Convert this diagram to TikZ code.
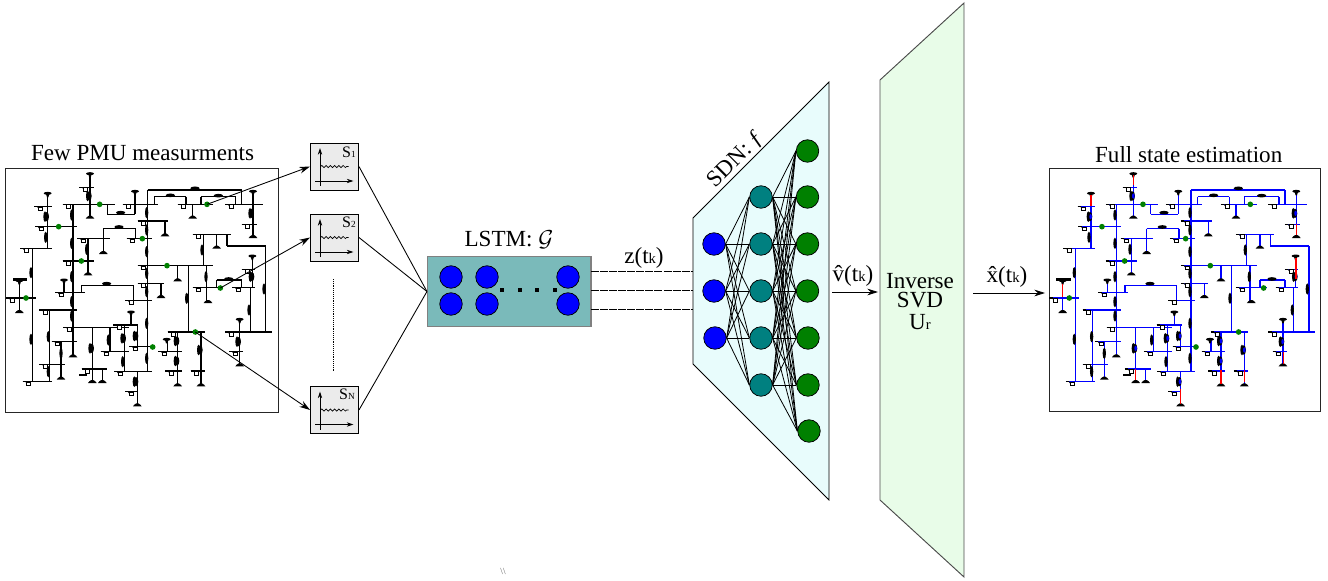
\documentclass[tikz,border=0pt]{standalone}
\usepackage{fontspec}
\setmainfont{Liberation Serif}
\usetikzlibrary{arrows.meta,decorations.pathmorphing}
\definecolor{sdnfill}{HTML}{E8FCFC}
\definecolor{svdfill}{HTML}{E8FCE8}
\definecolor{lstmfill}{HTML}{7ABABA}
\definecolor{boxfill}{HTML}{EBEBEB}
\definecolor{nblue}{HTML}{0000FF}
\definecolor{nteal}{HTML}{008080}
\definecolor{ngreen}{HTML}{008000}
\colorlet{netcol}{black}
\tikzset{
  pt/.style={circle,draw=black,line width=.55pt,minimum size=22.5*.75pt,inner sep=0pt},
  inpt/.style={pt,fill=nblue},
  hidpt/.style={pt,fill=nteal},
  outpt/.style={pt,fill=ngreen},
  edge/.style={line width=.6pt,black},
  conn/.style={line width=.65pt,black},
  arr/.style={conn,-{Stealth[length=8pt,width=5pt]}},
  sbox/.style={draw=black,fill=boxfill,line width=.7pt,minimum width=48*.75pt,minimum height=47*.75pt,inner sep=0pt},
  lab/.style={font=\fontsize{17.3}{18}\selectfont,inner sep=0pt},
  frame/.style={draw=black!85,line width=.7pt,fill=white},
  dashedlink/.style={line width=.55pt,black,dash pattern=on 6pt off .8pt},
  wire/.style={line width=.8pt,netcol},
  coil/.style={fill=black,draw=none},
}
% network primitives (coordinates in 3x zoom pixels)
\newcommand{\busline}[3]{%
  \draw[wire] (#1,#3) -- (#2,#3);
  \draw[line width=1pt,black] (#1,#3) -- (#1+10,#3);
  \draw[line width=.45pt,black] (#1+9,#3) -- (#1+13,#3+5);
  \draw[line width=.55pt,black,fill=white] (#1+12,#3+1.5) rectangle (#1+24,#3+12);
}
\newcommand{\vl}[3]{\draw[wire] (#1,#2) -- (#1,#3);}
\newcommand{\hl}[3]{\draw[wire] (#1,#3) -- (#2,#3);}
\newcommand{\blob}[2]{\fill[coil] (#1,#2) ellipse (5 and 17);}
\newcommand{\hblob}[2]{\fill[coil] (#1,#2) ellipse (14 and 5.5);}
\newcommand{\bigblob}[2]{\fill[coil] (#1-2,#2) ellipse (5 and 16);\fill[coil] (#1+3,#2) ellipse (7 and 14);}
\newcommand{\load}[2]{\fill[coil] (#1-13,#2+4) -- (#1-9,#2-1) -- (#1-3,#2-5) -- (#1+3,#2-5) -- (#1+9,#2-1) -- (#1+13,#2+4) -- cycle;}
\newcommand{\gen}[2]{\fill[coil] (#1,#2) ellipse (12 and 4.5); \fill[coil] (#1-5,#2+2) -- (#1+5,#2+2) -- (#1+2,#2+12) -- (#1-2,#2+12) -- cycle;}
\newcommand{\gdot}[2]{\fill[ngreen] (#1,#2) circle (8.5);}
\newcommand{\netdraw}{%
  % main verticals
  \vl{219}{223}{678}\vl{443}{180}{725}\hl{443}{725}{180}\vl{725}{180}{223}
  \vl{270}{136}{262}\busline{238}{282}{172}
  \busline{188}{345}{223}\busline{105}{232}{290}\busline{188}{282}{393}
  \busline{165}{255}{488}\busline{118}{232}{540}\busline{190}{387}{592}\busline{155}{232}{635}
  \vl{143}{193}{355}\busline{103}{155}{230}\busline{60}{155}{355}
  \vl{97}{355}{755}\busline{68}{155}{755}
  \busline{18}{108}{504}\vl{58}{461}{545}
  \vl{148}{540}{755}\busline{118}{195}{703}\vl{183}{635}{745}
  \vl{192}{455}{488}\vl{264}{326}{432}
  \vl{277}{592}{752}\busline{245}{322}{717}\vl{307}{717}{752}
  \vl{330}{592}{665}\busline{302}{387}{665}
  \vl{373}{585}{725}\busline{340}{415}{585}\vl{393}{552}{585}
  \vl{412}{585}{650}\busline{388}{458}{650}
  \busline{342}{455}{725}\vl{412}{725}{822}\busline{375}{412}{785}
  \busline{368}{475}{223}\vl{405}{190}{253}\hl{322}{405}{253}\vl{322}{223}{253}
  \busline{533}{640}{223}\vl{578}{223}{262}
  \vl{463}{200}{223}\hl{463}{558}{200}\vl{558}{200}{223}
  \vl{603}{200}{223}\hl{603}{707}{200}\vl{707}{200}{223}
  \busline{675}{790}{223}\vl{759}{190}{318}\busline{725}{770}{283}
  \busline{413}{505}{273}\vl{495}{273}{315}
  \busline{380}{455}{326}\vl{407}{296}{326}\hl{310}{407}{296}\vl{310}{296}{326}
  \busline{232}{330}{326}\vl{310}{326}{368}
  \busline{413}{640}{407}\vl{533}{407}{450}\vl{565}{407}{606}\vl{610}{313}{407}
  \busline{578}{693}{313}\vl{650}{313}{352}\vl{681}{313}{348}\hl{681}{797}{348}\vl{797}{348}{606}
  \vl{620}{407}{515}\busline{578}{670}{473}
  \vl{650}{450}{473}\hl{650}{725}{450}\vl{725}{450}{473}
  \busline{697}{765}{473}\vl{751}{473}{606}\vl{757}{382}{473}\busline{725}{765}{418}
  \busline{413}{493}{460}\vl{483}{460}{500}
  \busline{375}{455}{511}\vl{400}{466}{511}\hl{245}{400}{466}\vl{245}{466}{488}
  \busline{503}{615}{606}\vl{533}{606}{765}\busline{475}{545}{665}\vl{503}{630}{665}\busline{495}{545}{723}
  \vl{603}{606}{765}\busline{572}{615}{723}
  \busline{675}{815}{606}\vl{719}{572}{705}\busline{688}{730}{665}
  % coils
  \foreach \a/\b in {215/255,215/340,215/440,215/515,215/558,93/428,93/628,137/322,145/620,145/725,183/670,325/630,368/695,
    440/248,440/300,440/365,440/430,440/485,440/580,440/685,560/505,606/360,618/440,792/477,747/540,260/358}{\blob{\a}{\b}}
  \hblob{362}{248}\hblob{511}{196}\hblob{655}{197}\hblob{585}{175}\hblob{357}{291}\hblob{686}{447}\hblob{320}{461}
  \foreach \a/\b in {265/198,137/260,272/655,368/625,405/618,405/755,528/633,528/693,598/660,713/635,752/250,753/440}{\bigblob{\a}{\b}}
  % loads
  \foreach \a/\b in {270/262,578/262,759/320,495/315,310/368,264/432,533/450,650/352,624/515,483/500,219/678,183/745,277/755,307/755,58/545,412/825,533/765,603/765,719/705}{\load{\a}{\b}}
  % generators
  \foreach \a/\b in {270/131,143/190,405/184,759/184,757/378,393/546,192/450,719/568,500/628}{\gen{\a}{\b}}
  \fill[coil] (38,444) rectangle (82,452); \gen{58}{452}
  \fill[coil] (238,732) rectangle (262,737);
  % green buses
  \foreach \a/\b in {299/223,176/290,244/393,78/504,621/223,427/326,501/407,661/474,586/606,458/651}{\gdot{\a}{\b}}
}
\begin{document}
\begin{tikzpicture}[x=.75pt,y=-.75pt]
\useasboundingbox (0,0) rectangle (1328,581);
% left grid
\node[lab] (ttlL) at (142.5,153.5) {Few PMU measurments};
\draw[frame] (5.5,168) rectangle (278,412);
\begin{scope}[shift={(0,130)},x=.25pt,y=-.25pt]
\netdraw
\coordinate (m1) at (621,223);
\coordinate (m2) at (661,474);
\coordinate (m3) at (586,606);
\end{scope}
% sensor boxes
\foreach \n/\y in {s1/166.5,s2/237.5,sn/410}{
  \node[sbox] (\n) at (334.5,\y) {};
  \draw[line width=.6pt,-{Stealth[length=5pt,width=3.2pt]}] (\n.center)++(-14.5,19.5) -- ++(0,-38);
  \draw[line width=.6pt,-{Stealth[length=5pt,width=3.2pt]}] (\n.center)++(-19.5,14.5) -- ++(38.5,0);
  \draw[line width=.5pt,decorate,decoration={snake,segment length=3.2pt,amplitude=.8pt}] (\n.center)++(-14,0) -- ++(28,0);
}
\node[inner sep=0pt,font=\fontsize{12}{12}\selectfont] (s1t) at (349,152) {S\fontsize{7}{7}\selectfont 1};
\node[inner sep=0pt,font=\fontsize{12}{12}\selectfont] (s2t) at (349,222) {S\fontsize{7}{7}\selectfont 2};
\node[inner sep=0pt,font=\fontsize{12}{12}\selectfont] (snt) at (347,394) {S\fontsize{7}{7}\selectfont N};
\draw[arr] (m1) -- (s1.west);
\draw[arr] (m2) -- (s2.west);
\draw[arr] (m3) -- (sn.west);
\coordinate (dotA) at (333,279);
\coordinate (dotB) at (333,372);
\draw[line width=.5pt,dash pattern=on .7pt off .7pt] (dotA) -- (dotB);
% LSTM
\node[draw=black!50,line width=.8pt,fill=lstmfill,minimum width=163.5*.75pt,minimum height=69.5*.75pt,inner sep=0pt] (lstm) at (509.25,291.5) {};
\node[lab] (lstml) at (509,240) {LSTM: $\mathcal{G}$};
\foreach \n/\x/\y in {a/451/277,b/487/277,c/568/277,d/451/304,e/487/304,f/568/304}{
  \node[inpt] (l\n) at (\x,\y) {};
}
\foreach \x in {502,520,537,555}{\fill[black] (\x-1.6,288.4) rectangle (\x+1.6,291.6);}
\draw[conn] (s1.east) -- (lstm.west);
\draw[conn] (s2.east) -- (lstm.west);
\draw[conn] (sn.east) -- (lstm.west);
% SDN
\draw[draw=black,line width=.55pt,fill=sdnfill] (693,218) -- (829,82) -- (829,500) -- (693,364) -- cycle;
\coordinate (z1a) at (591,271.5); \coordinate (z1b) at (693,271.5);
\coordinate (z2a) at (591,290.7); \coordinate (z2b) at (693,290.7);
\coordinate (z3a) at (591,309.3); \coordinate (z3b) at (693,309.3);
\draw[dashedlink] (z1a) -- (z1b);
\draw[dashedlink] (z2a) -- (z2b);
\draw[dashedlink] (z3a) -- (z3b);
\node[lab] (zl) at (644,258) {z(t{\fontsize{11}{11}\selectfont k})};
\node[lab,rotate=45] (sdnl) at (736,159.5) {SDN: \textit{ƒ}};
\foreach \n/\x/\y in {1/714/244,2/714/291,3/715/338}{\node[inpt] (i\n) at (\x,\y) {};}
\foreach \n/\y in {1/197,2/244,3/291,4/338,5/385}{\node[hidpt] (h\n) at (761,\y) {};}
\foreach \n/\x/\y in {1/807.5/151,2/807.5/197,3/807.5/244,4/807.5/291,5/808/338,6/808/385,7/809/431}{\node[outpt] (o\n) at (\x,\y) {};}
\foreach \i in {1,2,3}{\foreach \h in {1,...,5}{\draw[edge] (i\i.east) -- (h\h.west);}}
\foreach \h in {1,...,5}{\foreach \o in {1,...,7}{\draw[edge] (h\h.east) -- (o\o.west);}}
% SVD
\draw[draw=black!70,line width=.7pt,fill=svdfill] (880,80) -- (964,3) -- (964,577) -- (880,500) -- cycle;
\node[lab] (inv) at (920,281) {Inverse};
\node[lab] (svd) at (920,300.5) {SVD};
\node[lab] (ur) at (920,322) {U{\fontsize{11}{11}\selectfont r}};
\coordinate (va) at (832,292); \coordinate (vb) at (878,292);
\draw[arr] (va) -- (vb);
\node[lab] (vl) at (853,276) {\^v(t{\fontsize{11}{11}\selectfont k})};
\coordinate (xa) at (973,293); \coordinate (xb) at (1045,293);
\draw[arr] (xa) -- (xb);
\node[lab] (xl) at (1007,277) {\^x(t{\fontsize{11}{11}\selectfont k})};
% right grid
\node[lab] (ttlR) at (1188.7,155) {Full state estimation};
\draw[frame] (1049,168) rectangle (1320,411);
\begin{scope}[shift={(1043.3,130)},x=.25pt,y=-.25pt]
\colorlet{netcol}{nblue}
\netdraw
\foreach \a/\b in {265/198,137/260,272/655,368/625,405/618,405/755,528/633,528/693,598/660,713/635,752/250,753/440}{\fill[nblue] (\a+5,\b) ellipse (4 and 8);}
\foreach \a/\b/\c in {270/136/165,143/196/228,58/461/500,758/384/446,759/281/316,720/666/703,276/716/751,533/721/761,604/721/756,411/776/821}{\draw[red,line width=.8pt] (\a,\b) -- (\a,\c);}
\end{scope}
\node[inner sep=0pt,font=\fontsize{7}{7}\selectfont,text=black!60] (stray) at (503,571) {\textbackslash\textbackslash};
\end{tikzpicture}
\end{document}
